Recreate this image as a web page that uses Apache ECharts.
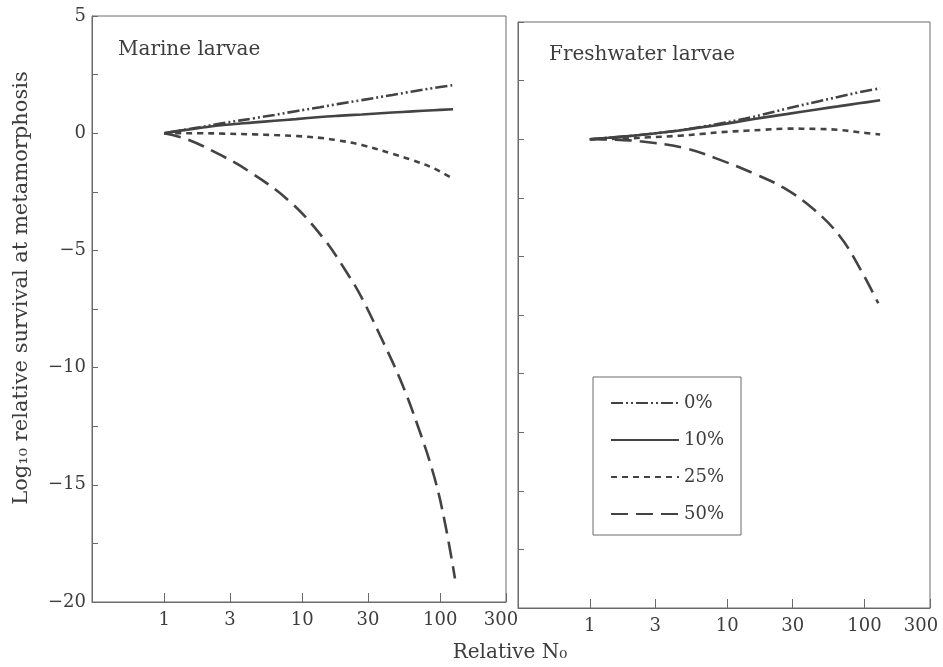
<!DOCTYPE html>
<html>
<head>
<meta charset="utf-8">
<script src="https://cdn.jsdelivr.net/npm/echarts@6/dist/echarts.min.js"></script>
<style>
  html, body { margin: 0; padding: 0; background: #ffffff; }
  #chart { width: 943px; height: 667px; }
</style>
</head>
<body>
<div id="chart"></div>
<script>
// ---- Data ----
const seriesNames = ['0%', '10%', '25%', '50%'];
const xTickValues = [1, 3, 10, 30, 100, 300];

// Marine larvae
const marineN = [1, 1.35, 1.8, 2.7, 4.5, 6.3, 9, 13.5, 18, 27, 45, 63, 90, 124];
const marine0 = [0, 0.13, 0.25, 0.43, 0.64, 0.78, 0.94, 1.11, 1.24, 1.41, 1.63, 1.78, 1.93, 2.05];
const marine10 = [0, 0.12, 0.22, 0.35, 0.46, 0.53, 0.6, 0.69, 0.74, 0.8, 0.88, 0.93, 0.98, 1.02];
const marine25 = [0, 0, 0, -0.02, -0.05, -0.08, -0.12, -0.2, -0.3, -0.5, -0.88, -1.15, -1.5, -1.95];
const marine50N = [1, 1.48, 2.6, 4.05, 7.9, 13.9, 21.9, 27.3, 36.5, 51.3, 69, 91, 109, 128];
const marine50 = [0, -0.27, -0.95, -1.6, -2.85, -4.4, -6.1, -7.07, -8.6, -10.5, -12.5, -14.7, -16.7, -19.0];

// Freshwater larvae
const freshN = [1, 1.36, 1.82, 2.7, 4.5, 6.4, 9.1, 13.6, 18.2, 27, 45, 64, 91, 130];
const fresh0 = [0, 0.06, 0.12, 0.22, 0.38, 0.52, 0.68, 0.88, 1.05, 1.3, 1.6, 1.8, 2.0, 2.17];
const fresh10 = [0, 0.06, 0.12, 0.22, 0.37, 0.5, 0.63, 0.8, 0.92, 1.07, 1.27, 1.4, 1.53, 1.66];
const fresh25 = [0, 0.01, 0.03, 0.08, 0.15, 0.22, 0.3, 0.36, 0.4, 0.45, 0.44, 0.4, 0.3, 0.2];
const fresh50N = [1, 1.5, 2.32, 4.83, 8.4, 15.6, 25.9, 42.9, 66.4, 93.5, 126];
const fresh50 = [0, -0.02, -0.09, -0.37, -0.83, -1.46, -2.08, -3.0, -4.15, -5.55, -7.0];

// ---- Styles ----
const FONT = '"DejaVu Serif", "Liberation Serif", serif';
const TXT = '#3d3d3d';
const AX = '#6a6a6a';
const LINE = '#434343';
const dashStyles = {
  '0%': [12, 3, 2, 3, 2, 3],
  '10%': 'solid',
  '25%': [6, 5],
  '50%': [17, 8]
};

const zip = (xs, ys) => xs.map((x, i) => [x, ys[i]]);

function mkSeries(name, xs, ys, idx) {
  return {
    name: name,
    type: 'line',
    xAxisIndex: idx,
    yAxisIndex: idx,
    data: zip(xs, ys),
    symbol: 'none',
    smooth: 0.4,
    lineStyle: { color: LINE, width: 2.6, type: dashStyles[name], cap: 'butt' },
    itemStyle: { color: LINE },
    emphasis: { disabled: true }
  };
}

function mkX(idx, lastShift) {
  return {
    type: 'log',
    logBase: 10,
    gridIndex: idx,
    min: 0.3,
    max: 300,
    axisLine: { show: true, onZero: false, lineStyle: { color: AX, width: 1 } },
    axisTick: { show: true, inside: true, length: 9, customValues: xTickValues, lineStyle: { color: AX } },
    minorTick: { show: false },
    splitLine: { show: false },
    axisLabel: {
      show: true,
      customValues: xTickValues,
      margin: 9,
      fontFamily: FONT,
      fontSize: 18,
      color: TXT,
      formatter: function (v) {
        const s = String(Math.round(v));
        return Math.round(v) === 300 ? '{r|' + s + '}' : s;
      },
      rich: {
        r: { fontFamily: FONT, fontSize: 18, color: TXT, padding: [0, lastShift, 0, 0] }
      }
    }
  };
}

function mkY(idx, showLabels) {
  return {
    type: 'value',
    gridIndex: idx,
    min: -20,
    max: 5,
    interval: 2.5,
    axisLine: { show: true, onZero: false, lineStyle: { color: AX, width: 1 } },
    axisTick: { show: true, inside: true, length: 6, lineStyle: { color: AX } },
    splitLine: { show: false },
    axisLabel: {
      show: showLabels,
      margin: 6,
      fontFamily: FONT,
      fontSize: 18,
      color: TXT,
      formatter: function (v) {
        if (Math.abs(v % 5) > 1e-9) return '';
        return v < 0 ? '\u2212' + Math.abs(v) : String(v);
      }
    }
  };
}

const chart = echarts.init(document.getElementById('chart'), null, { renderer: 'canvas' });

chart.setOption({
  animation: false,
  backgroundColor: '#ffffff',
  grid: [
    { left: 92, top: 16, width: 414, height: 586, show: true, borderColor: AX, borderWidth: 1, backgroundColor: 'transparent', containLabel: false, outerBoundsMode: 'none' },
    { left: 518, top: 22, width: 412, height: 586, show: true, borderColor: AX, borderWidth: 1, backgroundColor: 'transparent', containLabel: false, outerBoundsMode: 'none' }
  ],
  xAxis: [mkX(0, 10), mkX(1, 18)],
  yAxis: [mkY(0, true), mkY(1, false)],
  title: [
    { text: 'Marine larvae', left: 113, top: 35, textStyle: { fontFamily: FONT, fontSize: 20, fontWeight: 'normal', color: TXT } },
    { text: 'Freshwater larvae', left: 544, top: 40, textStyle: { fontFamily: FONT, fontSize: 20, fontWeight: 'normal', color: TXT } }
  ],
  legend: {
    data: seriesNames,
    orient: 'vertical',
    left: 593,
    top: 377,
    padding: [16, 17, 11, 17],
    itemWidth: 68,
    itemHeight: 14,
    itemGap: 17,
    borderColor: AX,
    borderWidth: 1,
    selectedMode: false,
    itemStyle: { opacity: 0 },
    textStyle: { fontFamily: FONT, fontSize: 18, color: TXT, lineHeight: 20 }
  },
  graphic: [
    {
      type: 'text',
      x: 22,
      y: 288,
      rotation: Math.PI / 2,
      style: {
        text: 'Log\u2081\u2080 relative survival at metamorphosis',
        fontFamily: FONT,
        fontSize: 21,
        fill: TXT,
        align: 'center',
        verticalAlign: 'middle'
      }
    },
    {
      type: 'text',
      x: 510,
      y: 653,
      style: {
        text: 'Relative N\u2080',
        fontFamily: FONT,
        fontSize: 20,
        fill: TXT,
        align: 'center',
        verticalAlign: 'middle'
      }
    }
  ],
  series: [
    mkSeries('0%', marineN, marine0, 0),
    mkSeries('10%', marineN, marine10, 0),
    mkSeries('25%', marineN, marine25, 0),
    mkSeries('50%', marine50N, marine50, 0),
    mkSeries('0%', freshN, fresh0, 1),
    mkSeries('10%', freshN, fresh10, 1),
    mkSeries('25%', freshN, fresh25, 1),
    mkSeries('50%', fresh50N, fresh50, 1)
  ]
});
</script>
</body>
</html>
